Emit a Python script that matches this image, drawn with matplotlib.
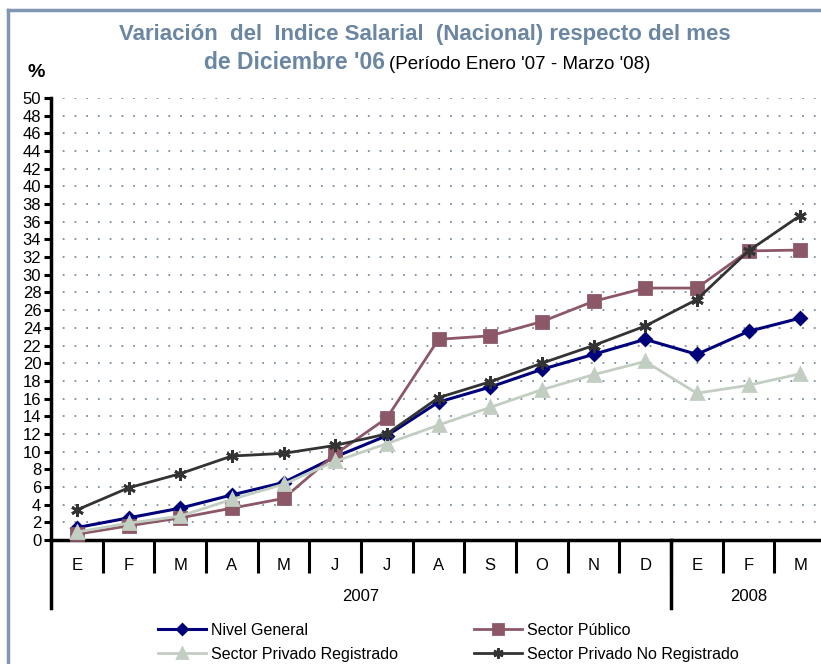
import numpy as np
import matplotlib.pyplot as plt
from matplotlib.lines import Line2D

plt.rcParams['font.family'] = ['Liberation Sans', 'DejaVu Sans']

# Datos (% de variación respecto de Diciembre '06)
meses = ['E', 'F', 'M', 'A', 'M', 'J', 'J', 'A', 'S', 'O', 'N', 'D', 'E', 'F', 'M']
anios = ['2007', '2008']
meses_por_anio = [12, 3]

nivel_general = [1.4, 2.5, 3.6, 5.1, 6.5, 9.4, 11.8, 15.6, 17.3, 19.3, 21.0, 22.7, 21.0, 23.6, 25.1]
sector_publico = [0.65, 1.6, 2.5, 3.6, 4.7, 9.7, 13.8, 22.7, 23.1, 24.7, 27.0, 28.5, 28.5, 32.7, 32.8]
privado_registrado = [0.9, 1.9, 2.7, 4.6, 6.3, 8.9, 10.9, 13.0, 15.0, 17.0, 18.7, 20.2, 16.6, 17.5, 18.8]
privado_no_registrado = [3.4, 5.9, 7.5, 9.5, 9.8, 10.7, 12.0, 16.1, 17.9, 20.0, 22.0, 24.2, 27.2, 32.7, 36.7]

fig = plt.figure(figsize=(8.21, 6.64), dpi=100)
ax = fig.add_axes([51 / 821, 1 - 540 / 664, 775 / 821, 442 / 664])

x = np.arange(len(meses))

series = [
    ('Nivel General', nivel_general, '#00007A', 'D', 6.5, 2.2),
    ('Sector Público', sector_publico, '#8C5766', 's', 9, 2.0),
    ('Sector Privado Registrado', privado_registrado, '#C3CEC3', '^', 9, 2.0),
    ('Sector Privado No Registrado', privado_no_registrado, '#333333', (6, 2, 0), 9, 2.0),
]
handles = []
for nombre, vals, col, mk, ms, lw in series:
    ln, = ax.plot(x, vals, color=col, lw=lw, marker=mk, markersize=ms,
                  markerfacecolor=col, markeredgecolor=col, markeredgewidth=2.0,
                  label=nombre, clip_on=False, zorder=3)
    handles.append(ln)

ax.set_xlim(-0.5, len(meses) - 0.5)
ax.set_ylim(0, 50)
ax.set_yticks(np.arange(0, 51, 2))
ax.yaxis.grid(True, linestyle=(0, (1, 5.5)), linewidth=1.3, color='#7D8EA0')
ax.set_axisbelow(True)
ax.tick_params(axis='y', direction='out', length=5, width=2.2, labelsize=12, pad=2)

for s in ['top', 'right']:
    ax.spines[s].set_visible(False)
ax.spines['left'].set_linewidth(2.5)
ax.spines['bottom'].set_linewidth(2.5)

# meses en el eje x, separadores en los bordes de categoría
ax.set_xticks(x)
ax.set_xticklabels(meses, fontsize=12)
ax.tick_params(axis='x', which='major', length=0, pad=13)
ax.set_xticks(np.arange(0.5, len(meses) - 1, 1), minor=True)
ax.tick_params(axis='x', which='minor', direction='out', length=24, width=2.2)

trans = ax.get_xaxis_transform()
bordes = np.cumsum([0] + meses_por_anio) - 0.5
for b in bordes[:-1]:
    ax.plot([b, b], [0, -0.154], transform=trans, color='black', lw=2.5, clip_on=False)
for i, anio in enumerate(anios):
    centro = (bordes[i] + bordes[i + 1]) / 2
    ax.text(centro, -0.128, anio, transform=trans, ha='center', va='center', fontsize=12)

# leyenda en dos columnas
opts = dict(loc='upper left', frameon=False, fontsize=11.5, handlelength=3.0,
            handletextpad=0.3, labelspacing=0.55, borderpad=0, markerscale=0.8)
fig.legend(handles=[handles[0], handles[2]], bbox_to_anchor=(150 / 821, 1 - 615 / 664), **opts)
fig.legend(handles=[handles[1], handles[3]], bbox_to_anchor=(466 / 821, 1 - 615 / 664), **opts)

# título
color_tit = '#6A86A3'
fig.text(425 / 821, 1 - 40 / 664, "Variación  del  Indice Salarial  (Nacional) respecto del mes",
         ha='center', va='baseline', fontsize=16, fontweight='bold', color=color_tit)
fig.text(385 / 821, 1 - 69 / 664, "de Diciembre '06", ha='right', va='baseline',
         fontsize=16.5, fontweight='bold', color=color_tit)
fig.text(389 / 821, 1 - 69 / 664, "(Período Enero '07 - Marzo '08)", ha='left', va='baseline',
         fontsize=13.5, color='black')
fig.text(36 / 821, 1 - 77 / 664, '%', ha='center', va='baseline', fontsize=14, fontweight='bold')

# marco
fig.add_artist(Line2D([8 / 821, 8 / 821], [0, 1 - 10 / 664], transform=fig.transFigure,
                      color='#7F97B0', lw=2.5))
fig.add_artist(Line2D([8 / 821, 1], [1 - 10 / 664, 1 - 10 / 664], transform=fig.transFigure,
                      color='#7F97B0', lw=2.5))

fig.savefig('out.png', dpi=100)
